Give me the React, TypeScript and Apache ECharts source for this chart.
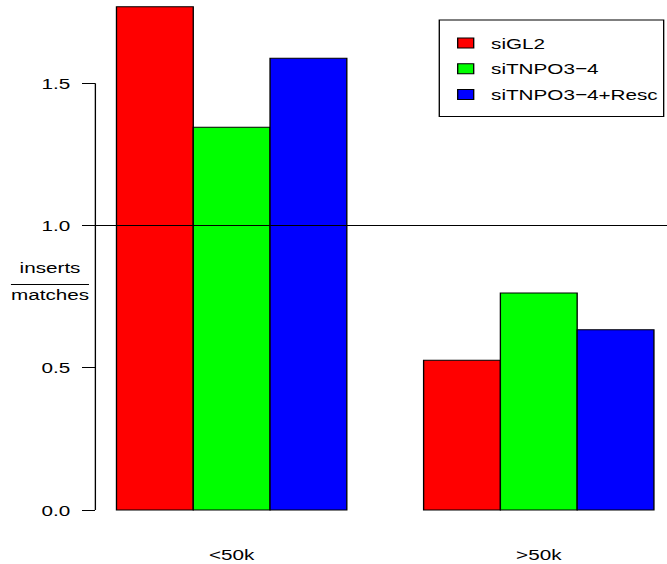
import React, { useEffect, useRef } from "react";
import * as echarts from "echarts";

// ---- data ----
const categories: string[] = ["<50k", ">50k"];
const seriesNames: string[] = ["siGL2", "siTNPO3\u22124", "siTNPO3\u22124+Resc"];
const seriesColors: string[] = ["#FF0000", "#00FF00", "#0000FF"];
const siGL2: number[] = [1.769, 0.526];
const siTNPO3_4: number[] = [1.345, 0.763];
const siTNPO3_4_Resc: number[] = [1.588, 0.634];
const seriesValues: number[][] = [siGL2, siTNPO3_4, siTNPO3_4_Resc];
const yTicks: number[] = [0, 0.5, 1.0, 1.5];
const refLine = 1.0;

// ---- layout (R barplot style: bar width 1, gap of 1 between groups) ----
const nSeries = seriesNames.length;
const groupStart = (gi: number) => 1 + gi * (nSeries + 1);
const groupCenters = categories.map((_, gi) => groupStart(gi) + nSeries / 2);
const xMin = 0.72;
const xMax = 8.17;
const yMax = 1.7926;

const W0 = 500; // drawing width before horizontal stretch
const H0 = 564;
const SX = 667 / W0;
const FONT = "'Liberation Sans', Arial, Helvetica, sans-serif";

export default function App() {
  const ref = useRef<HTMLDivElement | null>(null);

  useEffect(() => {
    if (!ref.current) return;
    const chart = echarts.init(ref.current, undefined, { renderer: "svg" });

    const series: any[] = seriesNames.map((name, si) => ({
      type: "custom",
      name,
      coordinateSystem: "cartesian2d",
      color: seriesColors[si],
      itemStyle: { color: seriesColors[si], borderColor: "#000", borderWidth: 1 },
      encode: { x: 0, y: 1 },
      data: categories.map((_, gi) => [groupStart(gi) + si, seriesValues[si][gi]]),
      renderItem: (params: any, api: any) => {
        const x0 = api.value(0);
        const v = api.value(1);
        const p0 = api.coord([x0, v]);
        const p1 = api.coord([x0 + 1, 0]);
        return {
          type: "rect",
          shape: { x: p0[0], y: p0[1], width: p1[0] - p0[0], height: p1[1] - p0[1] },
          style: { fill: seriesColors[si], stroke: "#000", lineWidth: 1 },
        };
      },
      ...(si === 0
        ? {
            markLine: {
              silent: true,
              symbol: ["none", "none"],
              label: { show: false },
              lineStyle: { color: "#000", width: 1, type: "solid" },
              data: [
                { yAxis: refLine },
                [
                  { coord: [xMin, yTicks[0]] },
                  { coord: [xMin, yTicks[yTicks.length - 1]] },
                ],
              ],
            },
          }
        : {}),
    }));

    const option: any = {
      animation: false,
      backgroundColor: "#fff",
      textStyle: { fontFamily: FONT },
      grid: { left: 71.2, right: 0, top: 0, bottom: H0 - 510, containLabel: false },
      xAxis: {
        type: "value",
        min: xMin,
        max: xMax,
        axisLine: { show: false },
        axisTick: { show: false },
        splitLine: { show: false },
        axisLabel: {
          customValues: groupCenters,
          margin: 36,
          color: "#000",
          fontSize: 15.5,
          lineHeight: 16,
          fontFamily: FONT,
          formatter: (v: number) => {
            let best = 0;
            groupCenters.forEach((c, i) => {
              if (Math.abs(c - v) < Math.abs(groupCenters[best] - v)) best = i;
            });
            return categories[best];
          },
        },
      },
      yAxis: {
        type: "value",
        min: 0,
        max: yMax,
        axisLine: { show: false },
        splitLine: { show: false },
        axisTick: {
          show: true,
          customValues: yTicks,
          length: 9.75,
          lineStyle: { color: "#000", width: 1 },
        },
        axisLabel: {
          customValues: yTicks,
          margin: 18.6,
          color: "#000",
          fontSize: 15.5,
          fontFamily: FONT,
          formatter: (v: number) => v.toFixed(1),
        },
      },
      legend: {
        orient: "vertical",
        left: 329.3,
        top: 20,
        data: seriesNames,
        icon: "rect",
        itemWidth: 12,
        itemHeight: 10,
        itemGap: 9.8,
        padding: [15, 4.5, 14, 13.3],
        borderColor: "#000",
        borderWidth: 1,
        borderRadius: 0,
        selectedMode: false,
        itemStyle: { borderColor: "#000", borderWidth: 1 },
        textStyle: {
          color: "#000",
          fontSize: 15.5,
          lineHeight: 16,
          fontFamily: FONT,
          padding: [0, 0, 0, 8],
        },
      },
      graphic: [
        {
          type: "group",
          children: [
            {
              type: "text",
              x: 37.5,
              y: 267.3,
              style: {
                text: "inserts",
                fill: "#000",
                font: `15.5px ${FONT}`,
                align: "center",
                verticalAlign: "middle",
              },
            },
            {
              type: "line",
              shape: { x1: 8.2, y1: 284.5, x2: 66.7, y2: 284.5 },
              style: { stroke: "#000", lineWidth: 1 },
            },
            {
              type: "text",
              x: 37.5,
              y: 294.6,
              style: {
                text: "matches",
                fill: "#000",
                font: `15.5px ${FONT}`,
                align: "center",
                verticalAlign: "middle",
              },
            },
          ],
        },
      ],
      series,
    };

    chart.setOption(option);
    return () => {
      chart.dispose();
    };
  }, []);

  return (
    <div
      ref={ref}
      style={{
        position: "fixed",
        left: 0,
        top: 0,
        width: W0,
        height: H0,
        transform: `scaleX(${SX})`,
        transformOrigin: "0 0",
        background: "#fff",
      }}
    />
  );
}
